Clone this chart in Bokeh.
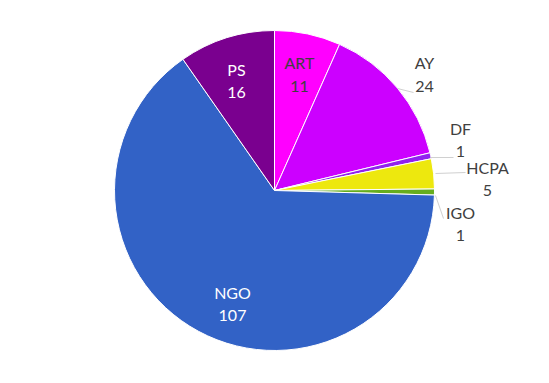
import math
from bokeh.plotting import figure
from bokeh.models import ColumnDataSource, Range1d
from bokeh.core.properties import value
from bokeh.embed import file_html
from bokeh.resources import INLINE

# ---- data ----
categories = ["ART", "AY", "DF", "HCPA", "IGO", "NGO", "PS"]
counts = [11, 24, 1, 5, 1, 107, 16]
colors = ["#FF00FF", "#CC00FF", "#9122F0", "#EDE80E", "#66AD1E", "#3262C6", "#7A008F"]
label_colors = ["#404040", "#404040", "#404040", "#404040", "#404040", "#FFFFFF", "#FFFFFF"]

# ---- layout (page pixel coordinates) ----
W, H = 533, 367
center_page = (274, 190)
radius = 160
label_pos = {  # (x, name_y, value_y)
    "ART": (299, 62, 86),
    "AY": (424, 62, 86),
    "DF": (460, 128, 151),
    "HCPA": (487, 167, 190),
    "IGO": (460, 212, 235),
    "NGO": (232, 292, 315),
    "PS": (236, 69, 92),
}
leaders = {
    "AY": [(397, 88), (413, 92)],
    "DF": [(430, 157), (453, 157)],
    "HCPA": [(435, 173), (465, 172)],
    "IGO": [(435, 195), (443, 218)],
}

def px(x):
    return x

def py(y):
    return H - y

total = sum(counts)
starts, ends = [], []
cum = 0
for c in counts:
    starts.append(math.pi / 2 - 2 * math.pi * cum / total)
    cum += c
    ends.append(math.pi / 2 - 2 * math.pi * cum / total)

src = ColumnDataSource(dict(cat=categories, count=counts, color=colors,
                            start=starts, end=ends))

p = figure(width=W, height=H, output_backend="svg", toolbar_location=None,
           x_range=Range1d(0, W), y_range=Range1d(0, H), min_border=0)
p.axis.visible = False
p.grid.visible = False
p.outline_line_color = None
p.background_fill_color = "white"

cx, cy = px(center_page[0]), py(center_page[1])
p.wedge(x=cx, y=cy, radius=radius, start_angle="start", end_angle="end",
        direction="clock", fill_color="color", line_color="white",
        line_width=1, source=src)

for cat, pts in leaders.items():
    p.line([px(a) for a, b in pts], [py(b) for a, b in pts],
           line_color="#D0D0D0", line_width=1)

lx, ly1, ly2, ltxt1, ltxt2, lcol = [], [], [], [], [], []
for cat, cnt, lc in zip(categories, counts, label_colors):
    x, y1, y2 = label_pos[cat]
    lx.append(px(x)); ly1.append(py(y1)); ly2.append(py(y2))
    ltxt1.append(cat); ltxt2.append(str(cnt)); lcol.append(lc)

lsrc = ColumnDataSource(dict(x=lx, y1=ly1, y2=ly2, t1=ltxt1, t2=ltxt2, c=lcol))
for ycol, tcol in (("y1", "t1"), ("y2", "t2")):
    p.text(x="x", y=ycol, text=tcol, source=lsrc, text_color="c",
           text_font=value("Lato"), text_font_size="16px",
           text_align="center", text_baseline="middle")

open("out.html", "w").write(file_html(p, INLINE))
